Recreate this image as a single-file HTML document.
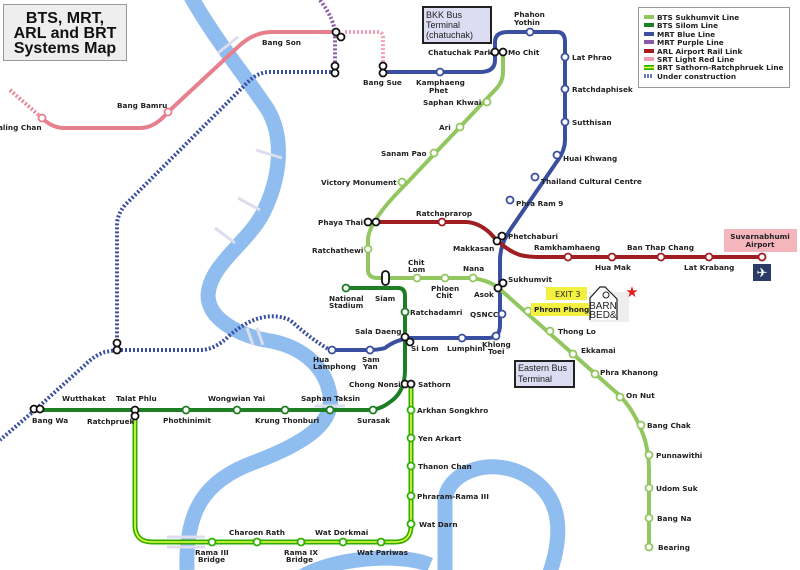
<!DOCTYPE html>
<html><head><meta charset="utf-8"><style>
html,body{margin:0;padding:0;background:#fff;}
svg{display:block;}
text{font-family:"DejaVu Sans","Liberation Sans",sans-serif;font-weight:bold;font-size:7.3px;fill:#222;}
.st{fill:#fff;stroke-width:1.8;}
</style></head><body>
<svg width="800" height="570" viewBox="0 0 800 570" xmlns="http://www.w3.org/2000/svg">
<!-- rivers -->
<g fill="none" stroke="#90bdf0" stroke-width="15" stroke-linecap="butt">
<path d="M190,-5 C215,40 245,75 268,110 C285,140 280,180 262,215 C245,245 210,265 208,295 C208,320 240,335 265,340 C300,345 325,365 330,395 C335,425 300,445 255,462 C205,480 185,510 187,570"/>
<path d="M300,578 C330,558 400,552 430,565"/>
<path d="M445,578 L445,500 C448,470 495,455 530,478 C565,500 562,540 548,578"/>
</g>
<g stroke="#dde" stroke-width="3"><line x1="218" y1="53" x2="238" y2="37"/><line x1="256" y1="150" x2="282" y2="158"/><line x1="238" y1="198" x2="260" y2="210"/><line x1="215" y1="228" x2="235" y2="243"/><line x1="247" y1="328" x2="253" y2="345"/><line x1="257" y1="328" x2="263" y2="345"/><line x1="315" y1="406" x2="345" y2="406"/><line x1="167" y1="537" x2="205" y2="537"/><line x1="167" y1="547" x2="205" y2="547"/></g>
<!-- dashed lines -->
<g fill="none" stroke-width="4" stroke-dasharray="2 2">
<path d="M10,90 L42,118" stroke="#e8889a"/>
<path d="M345,32 L378,32 Q383,32 383,38 L383,70" stroke="#f0a0b0"/>
<path d="M320,0 Q335,20 335,35 L335,70" stroke="#8a5aa8"/>
<path d="M335,72 L270,72 Q258,72 248,82 L125,205 Q117,215 117,225 L117,350 M117,350 L105,352 Q95,355 85,365 L35,410 L0,440 M117,350 L200,350 Q215,350 230,335 Q262,308 290,320 Q312,340 330,350" stroke="#3a4fa0"/>
</g>
<!-- pink -->
<path d="M42,118 Q52,128 65,128 L140,128 Q155,128 168,112 L240,45 Q255,32 272,32 L335,32" fill="none" stroke="#e77f8d" stroke-width="4"/>
<!-- blue -->
<path d="M383,72 L480,72 Q495,72 495,60 L495,42 Q495,32 508,32 L557,32 Q565,32 565,42 L565,140 Q565,150 558,160 L510,230 Q500,245 500,260 L500,325 Q500,338 488,338 L410,338 Q395,340 385,348 Q378,350 370,350 L330,350" fill="none" stroke="#3a4fa0" stroke-width="4"/>
<!-- ARL -->
<path d="M372,222 L465,222 Q478,222 490,233 Q505,250 520,255 Q528,257 540,257 L762,257" fill="none" stroke="#a01e22" stroke-width="4"/>
<!-- BTS Sukhumvit -->
<path d="M503,52 L503,72 Q503,82 495,90 L405,185 Q368,222 368,240 L368,270 Q368,278 378,278 L470,278 Q492,280 503,292 L618,394 Q635,410 645,440 Q649,455 649,470 L649,547" fill="none" stroke="#92c760" stroke-width="4"/>
<!-- Silom -->
<path d="M346,288 L398,288 Q405,288 405,296 L405,370 Q405,392 390,402 Q380,410 368,410 L38,410" fill="none" stroke="#1e7e25" stroke-width="4"/>
<!-- BRT -->
<path d="M135,416 L135,525 Q135,542 152,542 L395,542 Q411,542 411,526 L411,384" fill="none" stroke="#2fae00" stroke-width="5"/>
<path d="M135,416 L135,525 Q135,542 152,542 L395,542 Q411,542 411,526 L411,384" fill="none" stroke="#e8ff40" stroke-width="1.6"/>
<!-- stations -->
<g class="st" stroke="#e77f8d"><circle cx="42" cy="118" r="3.5"/><circle cx="168" cy="112" r="3.5"/></g>
<g class="st" stroke="#3a4fa0"><circle cx="440" cy="72" r="3.5"/><circle cx="530" cy="32" r="3.5"/><circle cx="565" cy="57" r="3.5"/><circle cx="565" cy="89" r="3.5"/><circle cx="565" cy="122" r="3.5"/><circle cx="557" cy="155" r="3.5"/><circle cx="535" cy="177" r="3.5"/><circle cx="510" cy="200" r="3.5"/><circle cx="502" cy="314" r="3.5"/><circle cx="496" cy="336" r="3.5"/><circle cx="462" cy="338" r="3.5"/><circle cx="370" cy="350" r="3.5"/><circle cx="332" cy="350" r="3.5"/></g>
<g class="st" stroke="#a01e22"><circle cx="442" cy="222" r="3.5"/><circle cx="568" cy="257" r="3.5"/><circle cx="612" cy="257" r="3.5"/><circle cx="661" cy="257" r="3.5"/><circle cx="709" cy="257" r="3.5"/><circle cx="762" cy="257" r="3.5"/></g>
<g class="st" stroke="#92c760"><circle cx="487" cy="102" r="3.5"/><circle cx="460" cy="127" r="3.5"/><circle cx="434" cy="153" r="3.5"/><circle cx="402" cy="182" r="3.5"/><circle cx="368" cy="249" r="3.5"/><circle cx="417" cy="278" r="3.5"/><circle cx="445" cy="278" r="3.5"/><circle cx="473" cy="278" r="3.5"/><circle cx="528" cy="311" r="3.5"/><circle cx="550" cy="331" r="3.5"/><circle cx="573" cy="354" r="3.5"/><circle cx="595" cy="374" r="3.5"/><circle cx="620" cy="397" r="3.5"/><circle cx="641" cy="425" r="3.5"/><circle cx="649" cy="455" r="3.5"/><circle cx="649" cy="488" r="3.5"/><circle cx="649" cy="518" r="3.5"/><circle cx="649" cy="547" r="3.5"/></g>
<g class="st" stroke="#1e7e25"><circle cx="346" cy="288" r="3.5"/><circle cx="405" cy="312" r="3.5"/><circle cx="373" cy="410" r="3.5"/><circle cx="330" cy="410" r="3.5"/><circle cx="285" cy="410" r="3.5"/><circle cx="237" cy="410" r="3.5"/><circle cx="186" cy="410" r="3.5"/></g>
<g class="st" stroke="#2fae00"><circle cx="411" cy="410" r="3.5"/><circle cx="411" cy="438" r="3.5"/><circle cx="411" cy="466" r="3.5"/><circle cx="411" cy="496" r="3.5"/><circle cx="411" cy="524" r="3.5"/><circle cx="212" cy="542" r="3.5"/><circle cx="257" cy="542" r="3.5"/><circle cx="301" cy="542" r="3.5"/><circle cx="343" cy="542" r="3.5"/><circle cx="381" cy="542" r="3.5"/></g>
<g class="st" stroke="#111"><circle cx="336" cy="32" r="3.5"/><circle cx="341" cy="37" r="3.5"/><circle cx="335" cy="66" r="3.5"/><circle cx="335" cy="73" r="3.5"/><circle cx="383" cy="66" r="3.5"/><circle cx="383" cy="73" r="3.5"/><circle cx="495" cy="52" r="3.5"/><circle cx="503" cy="52" r="3.5"/><circle cx="368" cy="222" r="3.5"/><circle cx="376" cy="222" r="3.5"/><circle cx="497" cy="241" r="3.5"/><circle cx="502" cy="236" r="3.5"/><circle cx="498" cy="288" r="3.5"/><circle cx="503" cy="283" r="3.5"/><circle cx="405" cy="337" r="3.5"/><circle cx="410" cy="342" r="3.5"/><circle cx="405" cy="384" r="3.5"/><circle cx="411" cy="384" r="3.5"/><circle cx="117" cy="343" r="3.5"/><circle cx="117" cy="350" r="3.5"/><circle cx="34" cy="409" r="3.5"/><circle cx="40" cy="409" r="3.5"/><circle cx="135" cy="410" r="3.5"/><circle cx="135" cy="416" r="3.5"/><rect x="382" y="271" width="7" height="14" rx="3.5"/></g>
<!-- labels -->
<g>
<text x="262" y="45">Bang Son</text><text x="363" y="85">Bang Sue</text>
<text x="117" y="108">Bang Bamru</text><text x="-2" y="130">aling Chan</text>
<text x="416" y="85">Kamphaeng</text><text x="429" y="93">Phet</text>
<text x="428" y="55">Chatuchak Park</text><text x="508" y="55">Mo Chit</text>
<text x="514" y="17">Phahon</text><text x="514" y="25">Yothin</text>
<text x="572" y="60">Lat Phrao</text><text x="572" y="92">Ratchdaphisek</text><text x="572" y="125">Sutthisan</text>
<text x="563" y="161">Huai Khwang</text><text x="541" y="184">Thailand Cultural Centre</text><text x="516" y="206">Phra Ram 9</text>
<text x="423" y="105">Saphan Khwai</text><text x="439" y="130">Ari</text><text x="381" y="156">Sanam Pao</text><text x="321" y="185">Victory Monument</text>
<text x="318" y="225">Phaya Thai</text><text x="312" y="253">Ratchathewi</text><text x="416" y="216">Ratchaprarop</text>
<text x="508" y="239">Phetchaburi</text><text x="453" y="251">Makkasan</text>
<text x="534" y="250">Ramkhamhaeng</text><text x="627" y="250">Ban Thap Chang</text><text x="595" y="270">Hua Mak</text><text x="684" y="270">Lat Krabang</text>
<text x="408" y="265">Chit</text><text x="408" y="272">Lom</text><text x="463" y="271">Nana</text>
<text x="508" y="282">Sukhumvit</text><text x="474" y="297">Asok</text><text x="431" y="291">Phloen</text><text x="436" y="298">Chit</text>
<text x="329" y="301">National</text><text x="329" y="308">Stadium</text><text x="375" y="301">Siam</text>
<text x="410" y="315">Ratchadamri</text><text x="470" y="317">QSNCC</text>
<text x="355" y="334">Sala Daeng</text><text x="411" y="351">Si Lom</text><text x="447" y="351">Lumphini</text>
<text x="482" y="347">Khlong</text><text x="488" y="354">Toei</text>
<text x="313" y="362">Hua</text><text x="313" y="369">Lamphong</text><text x="362" y="362">Sam</text><text x="363" y="369">Yan</text>
<text x="349" y="387">Chong Nonsi</text><text x="418" y="387">Sathorn</text>
<text x="301" y="401">Saphan Taksin</text><text x="357" y="423">Surasak</text><text x="255" y="423">Krung Thonburi</text>
<text x="208" y="401">Wongwian Yai</text><text x="163" y="423">Phothinimit</text><text x="116" y="401">Talat Phlu</text>
<text x="62" y="401">Wutthakat</text><text x="87" y="424">Ratchpruek</text><text x="32" y="423">Bang Wa</text>
<text x="417" y="413">Arkhan Songkhro</text><text x="418" y="441">Yen Arkart</text><text x="418" y="469">Thanon Chan</text><text x="417" y="499">Phraram-Rama III</text><text x="419" y="527">Wat Darn</text>
<text x="229" y="535">Charoen Rath</text><text x="315" y="535">Wat Dorkmai</text>
<text x="195" y="555">Rama III</text><text x="198" y="562">Bridge</text><text x="284" y="555">Rama IX</text><text x="286" y="562">Bridge</text><text x="357" y="555">Wat Pariwas</text>
<text x="558" y="334">Thong Lo</text><text x="581" y="353">Ekkamai</text><text x="600" y="375">Phra Khanong</text><text x="626" y="398">On Nut</text>
<text x="647" y="428">Bang Chak</text><text x="656" y="458">Punnawithi</text><text x="656" y="491">Udom Suk</text><text x="657" y="521">Bang Na</text><text x="658" y="550">Bearing</text>
</g>
<!-- boxes -->
<rect x="3.5" y="4.5" width="123" height="56" fill="#eee" stroke="#999"/>
<text x="65" y="23" text-anchor="middle" style="font-size:16px;fill:#111;font-family:'Liberation Sans',sans-serif">BTS, MRT,</text>
<text x="65" y="38" text-anchor="middle" style="font-size:16px;fill:#111;font-family:'Liberation Sans',sans-serif">ARL and BRT</text>
<text x="65" y="53" text-anchor="middle" style="font-size:16px;fill:#111;font-family:'Liberation Sans',sans-serif">Systems Map</text>
<rect x="423" y="7" width="68" height="36" fill="#dcdcf2" stroke="#222" stroke-width="2"/>
<text x="426" y="18" style="font-weight:normal;font-size:9px;font-family:'Liberation Sans',sans-serif">BKK Bus</text><text x="426" y="28" style="font-weight:normal;font-size:9px;font-family:'Liberation Sans',sans-serif">Terminal</text><text x="426" y="38" style="font-weight:normal;font-size:9px;font-family:'Liberation Sans',sans-serif">(chatuchak)</text>
<rect x="515" y="361" width="59" height="26" fill="#dcdcf2" stroke="#222" stroke-width="2"/>
<text x="518" y="371" style="font-weight:normal;font-size:9px;font-family:'Liberation Sans',sans-serif">Eastern Bus</text><text x="518" y="382" style="font-weight:normal;font-size:9px;font-family:'Liberation Sans',sans-serif">Terminal</text>
<rect x="724" y="229" width="73" height="23" fill="#f4b6bc"/>
<text x="760" y="239" text-anchor="middle">Suvarnabhumi</text><text x="760" y="247" text-anchor="middle">Airport</text>
<rect x="753" y="264" width="18" height="17" fill="#2b3b66"/><text x="762" y="277" text-anchor="middle" style="fill:#fff;font-size:13px">✈</text>
<rect x="638.5" y="7.5" width="151" height="80" fill="#fff" stroke="#999"/>
<g><rect x="644" y="15" width="10" height="4" fill="#92c760"/><rect x="644" y="23" width="10" height="4" fill="#1e7e25"/><rect x="644" y="32" width="10" height="4" fill="#3a4fa0"/><rect x="644" y="40" width="10" height="4" fill="#8a5aa8"/><rect x="644" y="49" width="10" height="4" fill="#a01e22"/><rect x="644" y="57" width="10" height="4" fill="#f0a0b0"/><rect x="644" y="65" width="10" height="5" fill="#2fae00"/><rect x="644" y="66.7" width="10" height="1.6" fill="#e8ff40"/><path d="M645,74v4M648,74v4M651,74v4" stroke="#3a4fa0" stroke-width="1.5"/>
<text x="657" y="20">BTS Sukhumvit Line</text><text x="657" y="28">BTS Silom Line</text><text x="657" y="37">MRT Blue Line</text><text x="657" y="45">MRT Purple Line</text><text x="657" y="54">ARL Airport Rail Link</text><text x="657" y="62">SRT Light Red Line</text><text x="657" y="70">BRT Sathorn-Ratchphruek Line</text><text x="657" y="79">Under construction</text></g>
<rect x="546" y="287" width="41" height="13" fill="#f4f040"/><text x="555" y="297" style="font-weight:normal;font-size:8px">EXIT 3</text>
<rect x="531" y="303" width="58" height="13" fill="#f4f040"/><text x="534" y="312">Phrom Phong</text>
<rect x="589" y="292" width="40" height="30" fill="#eee"/>
<path d="M590,320 L590,298 L600,287 L605,287 L617,299 L617,320" fill="#fff" stroke="#222" stroke-width="1.2"/>
<circle cx="606" cy="295" r="3" fill="none" stroke="#222"/>
<text x="603" y="309" text-anchor="middle" style="font-weight:normal;font-size:10px;font-family:'Liberation Sans',sans-serif">BARN</text>
<text x="603" y="318" text-anchor="middle" style="font-weight:normal;font-size:10px;font-family:'Liberation Sans',sans-serif">BED&amp;</text>
<text x="632" y="297" text-anchor="middle" style="fill:#e02020;font-size:15px">★</text>
</svg>
</body></html>
